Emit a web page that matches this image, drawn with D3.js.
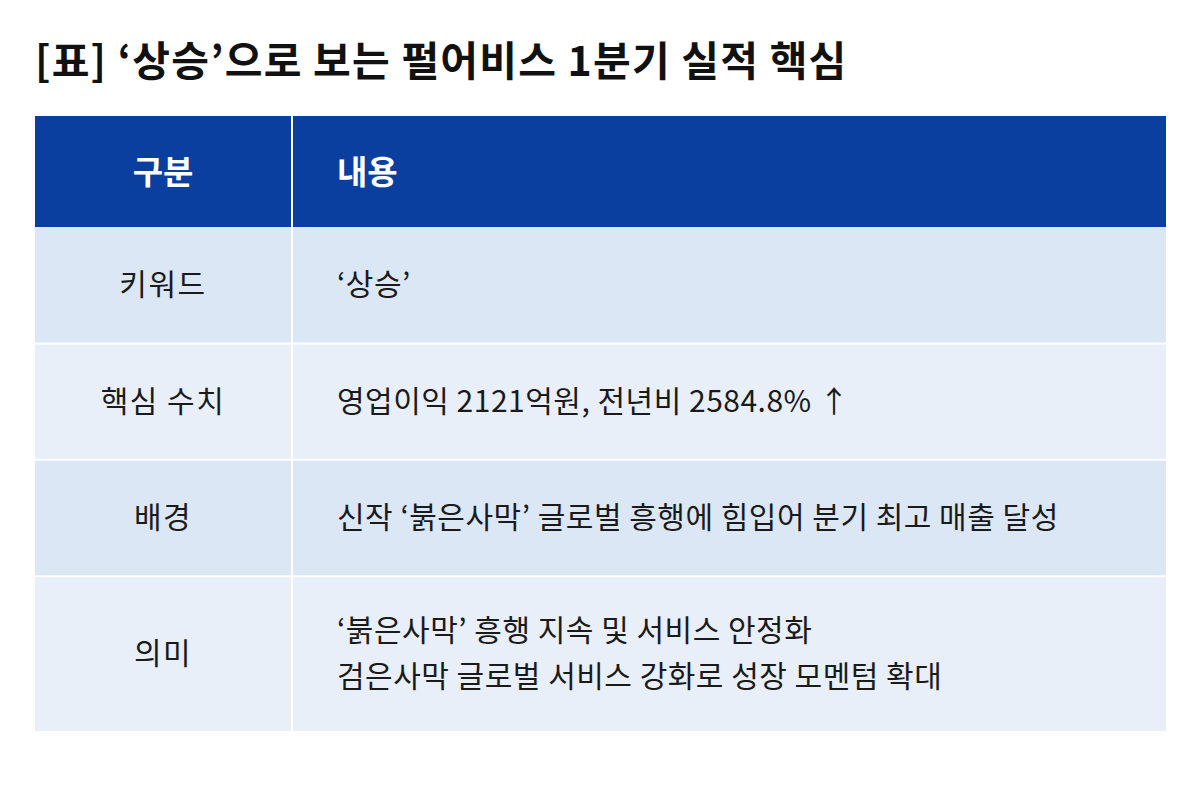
<!DOCTYPE html>
<html><head><meta charset="utf-8">
<script src="https://cdn.jsdelivr.net/npm/d3@7"></script>
<style>body{margin:0;background:#fff}svg{display:block}text{font-family:"Noto Sans CJK KR","Noto Sans",sans-serif}</style>
</head><body><svg id="c" width="1200" height="800"></svg>
<script>
const title = "[표] ‘상승’으로 보는 펄어비스 1분기 실적 핵심";
const headers = ["구분", "내용"];
const categories = ["키워드", "핵심 수치", "배경", "의미"];
const contents = [
  ["‘상승’"],
  ["영업이익 2121억원, 전년비 2584.8% ↑"],
  ["신작 ‘붉은사막’ 글로벌 흥행에 힘입어 분기 최고 매출 달성"],
  ["‘붉은사막’ 흥행 지속 및 서비스 안정화", "검은사막 글로벌 서비스 강화로 성장 모멘텀 확대"]
];
const rowWeights = [1, 1, 1, 1.33];

const svg = d3.select("#c");
svg.append("text").attr("x", 35).attr("y", 76).attr("font-size", 41).attr("font-weight", 700)
  .attr("letter-spacing", 1.2).attr("fill", "#111").text(title);

const x0 = 35, x1 = 1166, colX = 292;
const headTop = 116, headBot = 227, bodyBot = 731;
const cum = [0]; rowWeights.forEach(w => cum.push(cum[cum.length-1] + w));
const y = d3.scaleLinear().domain([0, cum[cum.length-1]]).range([headBot, bodyBot]);
const fills = ["#dce7f6", "#e8eff9", "#dce7f6", "#e8eff9"];

svg.append("rect").attr("x", x0).attr("y", headTop).attr("width", x1-x0).attr("height", headBot-headTop).attr("fill", "#0b3f9f");
headers.forEach((h, i) => svg.append("text").attr("x", i ? 337 : 163).attr("y", (headTop+headBot)/2 + 12)
  .attr("text-anchor", i ? "start" : "middle").attr("font-size", 33).attr("font-weight", 700).attr("fill", "#fff").text(h));

const rows = svg.selectAll("g.row").data(categories).join("g");
rows.append("rect").attr("x", x0).attr("y", (d,i) => y(cum[i])).attr("width", x1-x0)
  .attr("height", (d,i) => y(cum[i+1]) - y(cum[i])).attr("fill", (d,i) => fills[i]);
rows.append("text").attr("x", 163).attr("y", (d,i) => (y(cum[i])+y(cum[i+1]))/2 + 10)
  .attr("text-anchor", "middle").attr("font-size", 30).attr("letter-spacing", 1.5).attr("fill", "#1a1a1a").text(d => d);
rows.each(function(d, i) {
  const mid = (y(cum[i])+y(cum[i+1]))/2, lines = contents[i], lh = 46;
  lines.forEach((t, j) => d3.select(this).append("text").attr("x", 337)
    .attr("y", mid + 10 + (j - (lines.length-1)/2) * lh).attr("font-size", 30).attr("letter-spacing", 0.5).attr("fill", "#1a1a1a").text(t));
});
cum.slice(1, -1).forEach(c => svg.append("line").attr("x1", x0).attr("x2", x1).attr("y1", y(c)).attr("y2", y(c)).attr("stroke", "#fff").attr("stroke-width", 2));
svg.append("line").attr("x1", colX).attr("x2", colX).attr("y1", headTop).attr("y2", bodyBot).attr("stroke", "#fff").attr("stroke-width", 2);
</script></body></html>
